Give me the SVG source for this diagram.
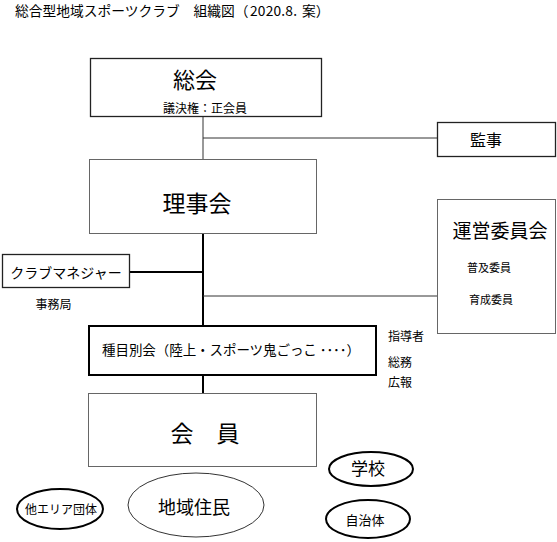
<svg xmlns="http://www.w3.org/2000/svg" width="557" height="542" viewBox="0 0 557 542">
<style>
text{font-family:"Noto Sans CJK JP","Noto Sans CJK SC",sans-serif;fill:#000}
.m{text-anchor:middle}
.b{fill:#fff;stroke:#222;stroke-width:1.3}
.g{fill:#fff;stroke:#666;stroke-width:1}
.k{fill:#fff;stroke:#000;stroke-width:2}
.l1{stroke:#333;stroke-width:1;fill:none}
.l2{stroke:#000;stroke-width:2;fill:none}
.e1{fill:#fff;stroke:#333;stroke-width:1}
.e2{fill:#fff;stroke:#000;stroke-width:2}
</style>
<rect width="557" height="542" fill="#fff"/>
<g id="title">
<text x="15" y="16" font-size="13.75">総合型地域スポーツクラブ　組織図（</text>
<text x="250" y="16" font-size="13.75" textLength="47" lengthAdjust="spacing">2020.8.</text>
<text x="302" y="16" font-size="13.75">案）</text>
</g>
<g id="connectors">
<line class="l1" x1="203" y1="117" x2="203" y2="160"/>
<line class="l1" x1="203" y1="138" x2="437" y2="138"/>
<line class="l2" x1="203" y1="234" x2="203" y2="326"/>
<line class="l2" x1="130" y1="272" x2="203" y2="272"/>
<line class="l1" x1="203" y1="296" x2="437" y2="296"/>
<line class="l2" x1="203" y1="376" x2="203" y2="394"/>
</g>
<g id="soukai">
<rect class="b" x="90.5" y="58.5" width="231" height="58"/>
<text class="m" x="195" y="88" font-size="22">総会</text>
<text class="m" x="205" y="112.5" font-size="12">議決権：正会員</text>
</g>
<g id="kanji">
<rect class="b" x="437.5" y="122.5" width="118" height="34"/>
<text class="m" x="486" y="145.5" font-size="16">監事</text>
</g>
<g id="rijikai">
<rect class="g" x="89.5" y="159.5" width="227" height="74"/>
<text class="m" x="197" y="212" font-size="23">理事会</text>
</g>
<g id="unei">
<rect class="g" x="437.5" y="199.5" width="118" height="134"/>
<text class="m" x="500" y="238" font-size="19">運営委員会</text>
<text class="m" x="489" y="272" font-size="11">普及委員</text>
<text class="m" x="491" y="304" font-size="11">育成委員</text>
</g>
<g id="manager">
<rect class="b" x="2.5" y="254.5" width="127" height="33"/>
<text class="m" x="66" y="278" font-size="14">クラブマネジャー</text>
<text class="m" x="53.5" y="308.5" font-size="12">事務局</text>
</g>
<g id="shumoku">
<rect class="k" x="89" y="326" width="287" height="49"/>
<text x="102" y="355" font-size="13.5" textLength="258" lengthAdjust="spacing">種目別会（陸上・スポーツ鬼ごっこ ････）</text>
<text x="388" y="341" font-size="12">指導者</text>
<text x="388" y="366.5" font-size="12">総務</text>
<text x="388" y="386.5" font-size="12">広報</text>
</g>
<g id="kaiin">
<rect class="g" x="88.5" y="393.5" width="228" height="73"/>
<text class="m" x="205" y="442" font-size="23">会　員</text>
</g>
<g id="gakkou">
<ellipse class="e2" cx="371" cy="469" rx="42" ry="17"/>
<text class="m" x="368" y="475" font-size="17">学校</text>
</g>
<g id="jichitai">
<ellipse class="e2" cx="368" cy="519" rx="42" ry="19"/>
<text class="m" x="365" y="524.5" font-size="13">自治体</text>
</g>
<g id="chiiki">
<ellipse class="e1" cx="196" cy="505" rx="68" ry="32"/>
<text class="m" x="194" y="514" font-size="18">地域住民</text>
</g>
<g id="taeria">
<ellipse class="e2" cx="60" cy="509" rx="43" ry="20"/>
<text class="m" x="61" y="513.5" font-size="12">他エリア団体</text>
</g>
</svg>
